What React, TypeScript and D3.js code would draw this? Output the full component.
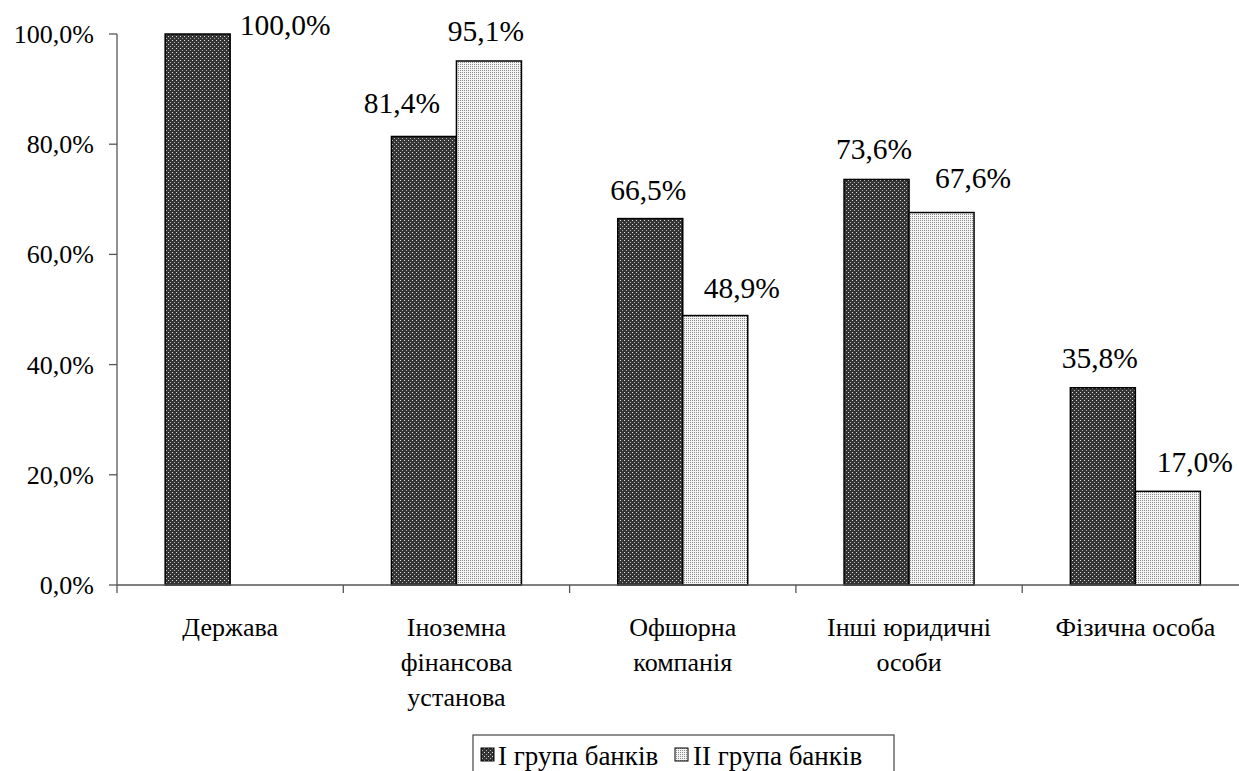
import React from "react";
import * as d3 from "d3";

// Частка банків за типом власника (у відсотках)
const categories: string[][] = [
  ["Держава"],
  ["Іноземна", "фінансова", "установа"],
  ["Офшорна", "компанія"],
  ["Інші юридичні", "особи"],
  ["Фізична особа"],
];
const seriesNames = ["І група банків", "ІІ група банків"];
const groupI: (number | null)[] = [100.0, 81.4, 66.5, 73.6, 35.8];
const groupII: (number | null)[] = [null, 95.1, 48.9, 67.6, 17.0];
const yTicks = [0, 20, 40, 60, 80, 100];

// Зсуви підписів значень відносно центру стовпця
const labelDxI = [87.5, -22, -2, -2.5, -3];
const labelDyI = [21, -3.5, 1, 0, 0];
const labelDxII = [0, -3, 26.5, 31.5, 27];
const labelDyII = [0, 0, 2, -4.5, 1];

const W = 1239;
const H = 771;
const FONT =
  '"Liberation Serif", Tinos, "Times New Roman", Times, "Noto Serif", "DejaVu Serif", FreeSerif, "Noto Serif CJK SC", serif';

function T(props: { x?: number; y?: number; size: number; anchor?: string; children: React.ReactNode }) {
  return (
    <text
      x={props.x}
      y={props.y}
      textAnchor={props.anchor || "start"}
      fill="#000"
      fontFamily={FONT}
      fontSize={props.size}
    >
      {props.children}
    </text>
  );
}

export default function App() {
  const left = 117;
  const step = 226.3;
  const x0 = d3
    .scaleBand<number>()
    .domain(d3.range(categories.length))
    .range([left, left + step * categories.length])
    .padding(0);
  const x1 = d3
    .scaleBand<number>()
    .domain([0, 1])
    .range([0, x0.bandwidth()])
    .paddingInner(0)
    .paddingOuter(0.7408);
  const y = d3.scaleLinear().domain([0, 100]).range([585, 34]);
  const fmt = (v: number) => d3.format(".1f")(v).replace(".", ",") + "%";

  const series = [
    { values: groupI, fill: "url(#patI)", dx: labelDxI, dy: labelDyI },
    { values: groupII, fill: "url(#patII)", dx: labelDxII, dy: labelDyII },
  ];

  const y0 = y(0);
  const axisColor = "#555";

  return (
    <svg
      width={W}
      height={H}
      style={{ position: "absolute", left: 0, top: 0, background: "#fff" }}
    >
      <defs>
        <pattern id="patI" width={4} height={4} patternUnits="userSpaceOnUse">
          <rect width={4} height={4} fill="#353535" />
          <rect x={0} y={0} width={1} height={1} fill="#e0e0e0" />
          <rect x={2} y={2} width={1} height={1} fill="#b0b0b0" />
        </pattern>
        <pattern id="patII" width={2} height={2} patternUnits="userSpaceOnUse">
          <rect width={2} height={2} fill="#f4f4f4" />
          <rect x={0} y={0} width={1} height={1} fill="#8c8c8c" />
        </pattern>
      </defs>

      {/* Вісь Y */}
      <line x1={left} x2={left} y1={y(100)} y2={y0} stroke={axisColor} strokeWidth={1.3} />
      {yTicks.map((t) => (
        <g key={t}>
          <line x1={left - 8} x2={left} y1={y(t)} y2={y(t)} stroke={axisColor} strokeWidth={1.3} />
          <T x={94} y={y(t) + 9} size={26} anchor="end">
            {fmt(t)}
          </T>
        </g>
      ))}

      {/* Стовпці */}
      {series.map((s, si) =>
        s.values.map((v, ci) =>
          v == null ? null : (
            <rect
              key={`b${si}-${ci}`}
              x={(x0(ci) as number) + (x1(si) as number)}
              y={y(v)}
              width={x1.bandwidth()}
              height={y0 - y(v)}
              fill={s.fill}
              stroke="#000"
              strokeWidth={1.5}
            />
          )
        )
      )}

      {/* Вісь X */}
      <line x1={left} x2={W} y1={y0} y2={y0} stroke={axisColor} strokeWidth={1.3} />
      {d3.range(categories.length + 1).map((i) => (
        <line
          key={`xt${i}`}
          x1={left + step * i}
          x2={left + step * i}
          y1={y0}
          y2={y0 + 8}
          stroke={axisColor}
          strokeWidth={1.3}
        />
      ))}
      {categories.map((lines, ci) =>
        lines.map((ln, li) => (
          <T
            key={`c${ci}-${li}`}
            x={(x0(ci) as number) + x0.bandwidth() / 2}
            y={636 + li * 35}
            size={26}
            anchor="middle"
          >
            {ln}
          </T>
        ))
      )}

      {/* Підписи значень */}
      {series.map((s, si) =>
        s.values.map((v, ci) =>
          v == null ? null : (
            <T
              key={`l${si}-${ci}`}
              x={(x0(ci) as number) + (x1(si) as number) + x1.bandwidth() / 2 + s.dx[ci]}
              y={y(v) - 20 + s.dy[ci]}
              size={29.5}
              anchor="middle"
            >
              {fmt(v)}
            </T>
          )
        )
      )}

      {/* Легенда */}
      <rect x={473} y={735} width={421} height={50} fill="#fff" stroke="#444" strokeWidth={1.2} />
      <rect x={481} y={748} width={13} height={13} fill="url(#patI)" stroke="#000" strokeWidth={1} />
      <T x={498} y={765} size={27}>
        {seriesNames[0]}
      </T>
      <rect x={675} y={748} width={13} height={13} fill="url(#patII)" stroke="#000" strokeWidth={1} />
      <T x={693} y={765} size={27}>
        {seriesNames[1]}
      </T>
    </svg>
  );
}
